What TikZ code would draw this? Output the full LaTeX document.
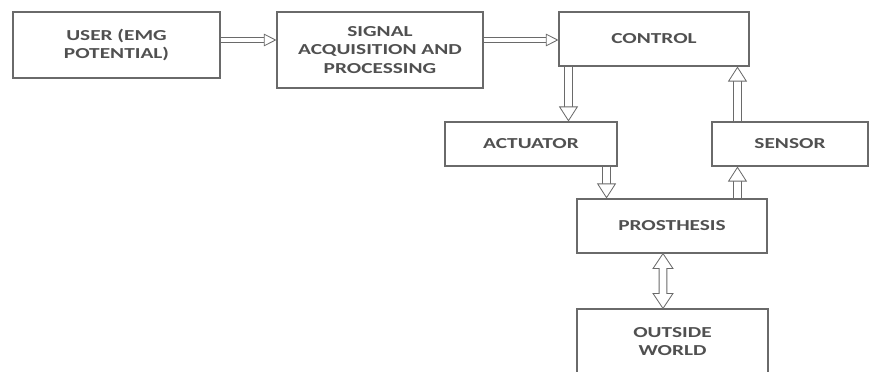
\documentclass[tikz,border=0pt]{standalone}
\usepackage{fontspec}
\newfontfamily\boxfont[FakeStretch=1.4]{Carlito}
\usepackage{xcolor}
\usepackage{tikz}
\usetikzlibrary{positioning, arrows.meta, calc}
\definecolor{lngray}{HTML}{6A6A6A}
\definecolor{txtgray}{HTML}{505050}

\begin{document}
\begin{tikzpicture}[
  x=0.03cm, y=-0.03cm,
  box/.style={draw=lngray, line width=0.9pt, align=center, inner sep=0pt,
    font=\boxfont\bfseries\fontsize{13}{15.5}\selectfont, text=txtgray},
  htip/.style={arrows={-Triangle[open, fill=white, length=0.38cm, width=0.38cm, line width=0.7pt]}},
  vtip/.style={arrows={-Triangle[open, fill=white, length=0.45cm, width=0.57cm, line width=0.7pt]}},
  harr/.style={draw=lngray, line width=0.7pt, double=white, double distance=4pt, htip},
  varr/.style={draw=lngray, line width=0.7pt, double=white, double distance=6pt, vtip},
]
\useasboundingbox (0,0) rectangle (869,372);

% Blocs
\node[box, minimum width=6.21cm, minimum height=1.98cm] (user) at (116.5,45) {USER (EMG\\POTENTIAL)};
\node[box, minimum width=6.18cm, minimum height=2.28cm] (sig) at (380,50) {SIGNAL\\ACQUISITION AND\\PROCESSING};
\node[box, minimum width=5.70cm, minimum height=1.62cm] (ctrl) at (654,39) {CONTROL};
\node[box, minimum width=5.16cm, minimum height=1.32cm] (act) at (531,144) {ACTUATOR};
\node[box, minimum width=4.68cm, minimum height=1.32cm] (sens) at (790,144) {SENSOR};
\node[box, minimum width=5.70cm, minimum height=1.62cm] (pros) at (672,226) {PROSTHESIS};
\node[box, minimum width=5.73cm, minimum height=1.95cm] (world) at (672.5,341.5) {OUTSIDE\\WORLD};

% Fleches
\draw[harr] ([yshift=0.15cm]user.east) coordinate (u1) -- (u1 -| sig.west);
\draw[harr] ([yshift=0.3cm]sig.east) coordinate (s1) -- (s1 -| ctrl.west);
\draw[varr] ([xshift=0.3cm]ctrl.south west) coordinate (c1) -- (c1 |- act.north);
\draw[varr] ([xshift=0.78cm]sens.north west) coordinate (s2) -- (s2 |- ctrl.south);
\draw[varr] ([xshift=-0.33cm]act.south east) coordinate (a1) -- (a1 |- pros.north);
\draw[varr] (s2 |- pros.north) -- (s2 |- sens.south);

% Double fleche (contour)
\coordinate (p1) at ([xshift=-0.27cm]pros.south);
\coordinate (p2) at (p1 |- world.north);
\draw[lngray, line width=0.7pt, fill=white]
  (p1) -- ($(p1)+(10,15)$) -- ($(p1)+(3.9,15)$) -- ($(p2)+(3.9,-15)$)
  -- ($(p2)+(10,-15)$) -- (p2) -- ($(p2)+(-10,-15)$) -- ($(p2)+(-3.9,-15)$)
  -- ($(p1)+(-3.9,15)$) -- ($(p1)+(-10,15)$) -- cycle;

\end{tikzpicture}
\end{document}
